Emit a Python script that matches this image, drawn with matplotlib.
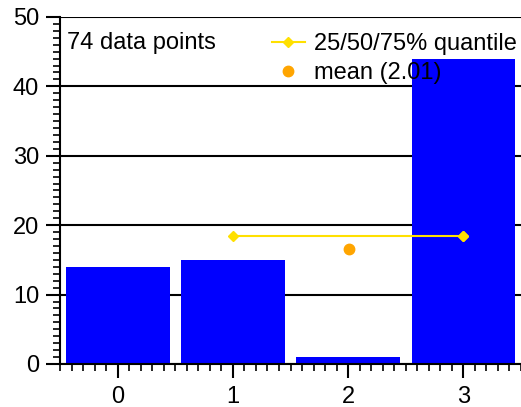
import matplotlib
matplotlib.use("Agg")
import matplotlib.pyplot as plt
from matplotlib.ticker import MultipleLocator

plt.rcParams['font.family'] = ['Liberation Sans', 'DejaVu Sans']

categories = [0, 1, 2, 3]
counts = [14, 15, 1, 44]
quantile_x = [1, 3, 3]
quantile_y = [18.5, 18.5, 18.5]
mean_x = 2.01
mean_y = 16.5
n_points = 74

fig = plt.figure(figsize=(5.21, 4.07), dpi=100)
ax = fig.add_axes([0.1152, 0.1057, 0.8848, 0.8526])

ax.bar(categories, counts, width=0.9, color='#0000FF', zorder=2)
ax.plot(quantile_x, quantile_y, color='#FFE000', lw=1.5, marker='D', ms=5.5,
        zorder=3, label='25/50/75% quantile')
ax.plot([mean_x], [mean_y], 'o', color='#FFA500', ms=7.5, zorder=3,
        label='mean (%.2f)' % mean_x)

ax.set_xlim(-0.5, 3.5)
ax.set_ylim(0, 50)
ax.xaxis.set_major_locator(MultipleLocator(1))
ax.xaxis.set_minor_locator(MultipleLocator(0.1))
ax.yaxis.set_major_locator(MultipleLocator(10))
ax.yaxis.set_minor_locator(MultipleLocator(1))

for s in ['top', 'right']:
    ax.spines[s].set_visible(False)
for s in ['left', 'bottom']:
    ax.spines[s].set_linewidth(1.5)

ax.tick_params(which='major', length=10, width=1.5, labelsize=17, pad=5)
ax.tick_params(which='minor', length=5, width=1.2)
ax.tick_params(axis='x', which='major', pad=6)
ax.yaxis.grid(True, which='major', color='black', lw=1.5, zorder=0)
ax.set_axisbelow(True)

ax.text(0.015, 0.925, '%d data points' % n_points, transform=ax.transAxes,
        fontsize=17, va='center', ha='left')

ax.legend(loc='upper right', bbox_to_anchor=(0.997, 0.96), frameon=False,
          fontsize=17, borderpad=0.1, borderaxespad=0, labelspacing=0.3,
          handlelength=1.4, handletextpad=0.4, numpoints=1)

fig.savefig('out.png', dpi=100)
